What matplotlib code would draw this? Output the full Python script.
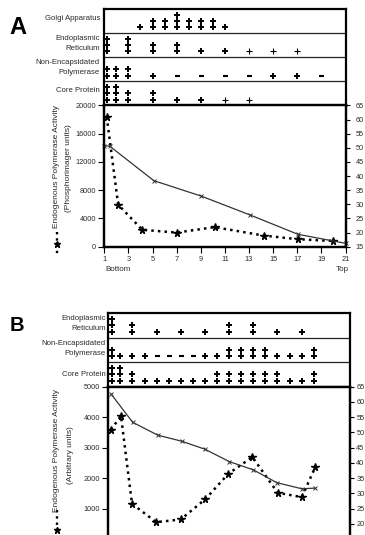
import matplotlib
matplotlib.use('Agg')
import matplotlib.pyplot as plt
from matplotlib.lines import Line2D

plt.rcParams['font.family'] = ['Liberation Sans', 'DejaVu Sans']

# ---------------- data: panel A ----------------
golgi_A_frac = [4, 5, 6, 7, 8, 9, 10, 11]
golgi_A_lvl = ["+", "++", "++", "+++", "++", "++", "++", "+"]
er_A_frac = [1, 3, 5, 7, 9, 11, 13, 15, 17]
er_A_lvl = ["+++", "+++", "++", "++", "+", "+", "w", "w", "w"]
nep_A_frac = [1, 2, 3, 5, 7, 9, 11, 13, 15, 17, 19]
nep_A_lvl = ["++", "++", "++", "+", "-", "-", "-", "-", "+", "+", "-"]
core_A_frac = [1, 2, 3, 5, 7, 9, 11, 13]
core_A_lvl = ["+++", "+++", "++", "++", "+", "+", "w", "w"]

act_A_x = [1.2, 2.15, 4.15, 7.0, 10.15, 14.25, 17.05, 19.95]
act_A_y = [18400, 5950, 2390, 2000, 2770, 1570, 1060, 810]
dens_A_x = [1.0, 1.45, 5.1, 9.05, 13.05, 17.05, 21.0]
dens_A_y = [50.7, 50.6, 38.4, 32.9, 26.3, 19.4, 16.2]

# ---------------- data: panel B ----------------
er_B_frac = [1, 3, 5, 7, 9, 11, 13, 15, 17]
er_B_lvl = ["+++", "++", "+", "+", "+", "++", "++", "+", "+"]
nep_B_frac = list(range(1, 19))
nep_B_lvl = ["++", "+", "+", "+", "-", "-", "-", "-", "+", "+",
             "++", "++", "++", "++", "+", "+", "+", "++"]
core_B_frac = list(range(1, 19))
core_B_lvl = ["+++", "+++", "++", "+", "+", "+", "+", "+", "+", "++",
              "++", "++", "++", "++", "++", "+", "+", "++"]

act_B_x = [1.22, 2.05, 2.96, 4.97, 6.99, 9.03, 10.93, 12.92, 15.02, 17.01, 18.14]
act_B_y = [3590, 4040, 1155, 553, 641, 1309, 2141, 2691, 1517, 1375, 2372]
dens_B_x = [1.25, 3.02, 5.09, 7.07, 8.98, 11.02, 13.0, 14.94, 17.0, 18.1]
dens_B_y = [62.5, 53.3, 49.1, 47.1, 44.5, 40.4, 37.7, 33.5, 31.5, 31.7]

left_ticks_A = [0, 4000, 8000, 12000, 16000, 20000]
left_ticks_B = [1000, 2000, 3000, 4000, 5000]
right_ticks_A = [15, 20, 25, 30, 35, 40, 45, 50, 55, 60, 65]
right_ticks_B = [20, 25, 30, 35, 40, 45, 50, 55, 60, 65]
x_ticks = [1, 3, 5, 7, 9, 11, 13, 15, 17, 19, 21]

# ---------------- figure ----------------
W, H = 365, 535
fig = plt.figure(figsize=(W / 100, H / 100), dpi=100)
TXT = '#2a2a2a'


def rect(x0, y0, x1, y1):
    return [x0 / W, 1 - y1 / H, (x1 - x0) / W, (y1 - y0) / H]


def annot_axes(r, nrows):
    ax = fig.add_axes(r)
    ax.set_xlim(1, 21)
    ax.set_ylim(0, nrows)
    ax.set_xticks([])
    ax.set_yticks([])
    for s in ax.spines.values():
        s.set_linewidth(1.6)
    for i in range(1, nrows):
        ax.axhline(i, color='#222222', lw=0.9)
    return ax


def draw_levels(ax, row, fracs, levels, x_first):
    for f, lv in zip(fracs, levels):
        x = x_first if f == 1 else f
        if lv == '-':
            ax.plot(x, row + 0.24, marker='_', ms=3.6, mew=1.5, color='k')
        elif lv == 'w':
            ax.plot(x, row + 0.24, marker='+', ms=4, mew=0.8, color='k')
        else:
            for k in range(len(lv)):
                ax.plot(x, row + 0.24 + 0.265 * k, marker='+', ms=5,
                        mew=1.4, color='k')


def main_axes(r, ylim, yticks, rticks, rpad, show_x):
    ax = fig.add_axes(r)
    ax.set_xlim(1, 21)
    ax.set_ylim(*ylim)
    ax.set_xticks(x_ticks)
    ax.set_yticks(yticks)
    for s in ax.spines.values():
        s.set_linewidth(1.6)
    ax.tick_params(axis='y', direction='out', length=4, width=0.8,
                   labelsize=5.3, pad=1.8, labelcolor=TXT)
    ax.tick_params(axis='x', direction='out', length=4, width=0.8,
                   labelsize=5.3, pad=2.5, labelcolor=TXT,
                   labelbottom=show_x)
    ax2 = ax.twinx()
    ax2.set_ylim(15, 65)
    ax2.set_yticks(rticks)
    for s in ax2.spines.values():
        s.set_linewidth(1.6)
    ax2.tick_params(axis='y', direction='out', length=3, width=0.8,
                    labelsize=5.3, pad=rpad, labelcolor=TXT)
    return ax, ax2


def legend_symbol(x, y0, y1, ystar):
    fig.add_artist(Line2D([x / W, x / W], [1 - y0 / H, 1 - y1 / H],
                          transform=fig.transFigure, ls=':', lw=1.7,
                          color='k'))
    fig.add_artist(Line2D([x / W], [1 - ystar / H], transform=fig.transFigure,
                          marker='*', ms=5, color='k', ls='none'))


def label(x, y, s, **kw):
    kw.setdefault('size', 5.6)
    kw.setdefault('color', TXT)
    fig.text(x / W, 1 - y / H, s, **kw)


# ================= Panel A =================
annA = annot_axes(rect(104.3, 9, 345.5, 105.5), 4)
draw_levels(annA, 3, golgi_A_frac, golgi_A_lvl, 1.25)
draw_levels(annA, 2, er_A_frac, er_A_lvl, 1.25)
draw_levels(annA, 1, nep_A_frac, nep_A_lvl, 1.25)
draw_levels(annA, 0, core_A_frac, core_A_lvl, 1.25)

label(100, 18, 'Golgi Apparatus', ha='right', va='center')
label(100, 38.5, 'Endoplasmic', ha='right', va='center')
label(100, 48.5, 'Reticulum', ha='right', va='center')
label(100, 63, 'Non-Encapsidated', ha='right', va='center')
label(100, 73, 'Polymerase', ha='right', va='center')
label(100, 90, 'Core Protein', ha='right', va='center')

axA, axA2 = main_axes(rect(104.3, 105.5, 345.5, 246.7), (0, 20000),
                      left_ticks_A, right_ticks_A, 4.3, True)
axA2.plot(dens_A_x, dens_A_y, color='#333333', lw=0.9, marker='x', ms=3.5,
          mew=0.7, clip_on=False)
axA.plot(act_A_x, act_A_y, color='k', lw=1.8, ls=':', marker='*', ms=5.5,
         clip_on=False)

label(105, 270, 'Bottom', ha='left', va='center', size=5.8)
label(349, 270, 'Top', ha='right', va='center', size=5.8)
label(56, 167, 'Endogenous Polymerase Activity', rotation=90, ha='center',
      va='center', size=6)
label(69, 168, '(Phosphorimager units)', rotation=90, ha='center',
      va='center', size=6)
legend_symbol(57, 232, 257, 244)
fig.text(9 / W, 1 - 34 / H, 'A', size=17, weight='bold', ha='left',
         va='baseline', color='k')

# ================= Panel B =================
annB = annot_axes(rect(108.3, 313.3, 350, 386.7), 3)
draw_levels(annB, 2, er_B_frac, er_B_lvl, 1.3)
draw_levels(annB, 1, nep_B_frac, nep_B_lvl, 1.3)
draw_levels(annB, 0, core_B_frac, core_B_lvl, 1.3)

label(106, 319, 'Endoplasmic', ha='right', va='center')
label(106, 329, 'Reticulum', ha='right', va='center')
label(106, 343.3, 'Non-Encapsidated', ha='right', va='center')
label(106, 353.3, 'Polymerase', ha='right', va='center')
label(106, 374, 'Core Protein', ha='right', va='center')

axB, axB2 = main_axes(rect(108.3, 386.7, 350, 539), (0, 5000), left_ticks_B,
                      right_ticks_B, 1.5, False)
axB2.plot(dens_B_x, dens_B_y, color='#333333', lw=0.9, marker='x', ms=3.5,
          mew=0.7, clip_on=False)
axB.plot(act_B_x, act_B_y, color='k', lw=1.8, ls=':', marker='*', ms=5.5,
         clip_on=False)

label(57, 451, 'Endogenous Polymerase Activity', rotation=90, ha='center',
      va='center', size=6)
label(70, 455, '(Arbitrary units)', rotation=90, ha='center', va='center',
      size=6)
legend_symbol(57, 510, 552, 530)
fig.text(10 / W, 1 - 330.7 / H, 'B', size=14.5, weight='bold', ha='left',
         va='baseline', color='k')

fig.savefig('out.png', dpi=100)
